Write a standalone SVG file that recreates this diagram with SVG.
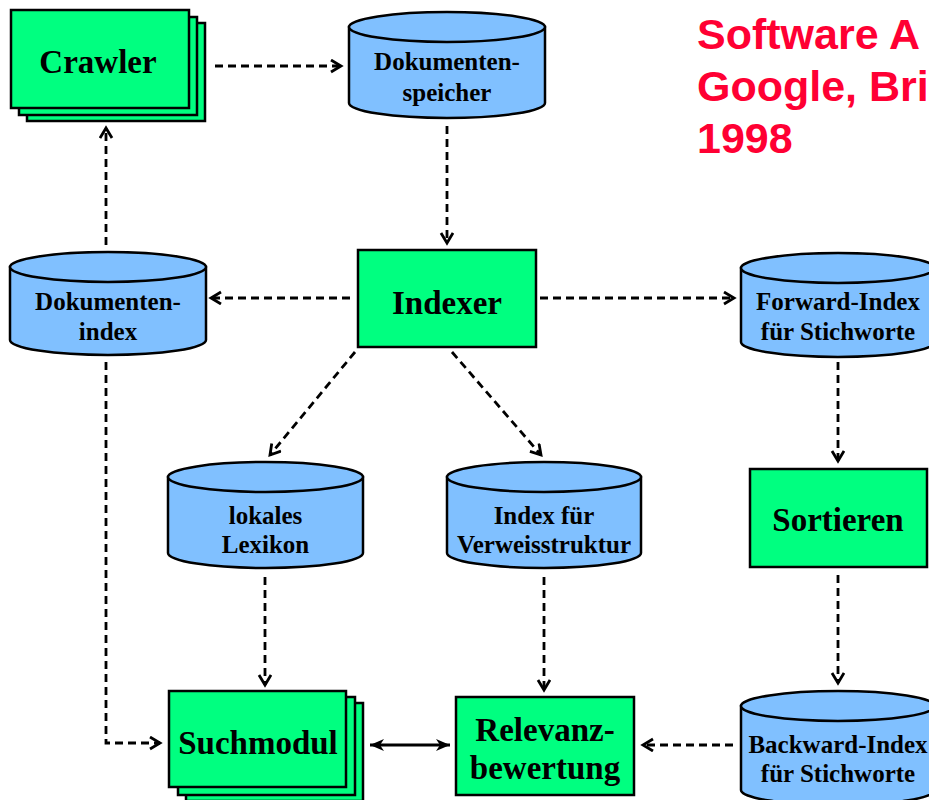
<svg xmlns="http://www.w3.org/2000/svg" width="929" height="800" viewBox="0 0 929 800">
  <style>
    .box { fill: #00ff80; stroke: #000; stroke-width: 2.5; }
    .cyl { fill: #80c0ff; stroke: #000; stroke-width: 2.5; }
    .lbl { font-family: "Liberation Serif", "Times New Roman", serif; font-weight: bold; fill: #000; text-anchor: middle; }
    .big { font-size: 33px; }
    .small { font-size: 25px; }
    .title { font-family: "Liberation Sans", Arial, sans-serif; font-weight: bold; font-size: 43px; fill: #ff0033; }
    .dash { fill: none; stroke: #000; stroke-width: 2.8; stroke-dasharray: 8 5; }
    .solid { fill: none; stroke: #000; stroke-width: 2.8; }
  </style>
  <defs>
    <marker id="open" markerUnits="userSpaceOnUse" markerWidth="14" markerHeight="16" refX="11" refY="7" orient="auto">
      <path d="M1,1 L11,7 L1,13" fill="none" stroke="#000" stroke-width="2.8"/>
    </marker>
    <marker id="solidEnd" markerUnits="userSpaceOnUse" markerWidth="16" markerHeight="14" refX="14" refY="6" orient="auto-start-reverse">
      <path d="M0,0 L14,6 L0,12 L4,6 Z" fill="#000"/>
    </marker>
  </defs>

  <!-- title -->
  <g id="title">
    <text class="title" x="697" y="49">Software A</text>
    <text class="title" x="697" y="101">Google, Bri</text>
    <text class="title" x="697" y="153">1998</text>
  </g>

  <!-- connectors -->
  <g id="connectors">
    <line class="dash" x1="215" y1="66" x2="341" y2="66" marker-end="url(#open)"/>
    <line class="dash" x1="447" y1="126" x2="447" y2="243" marker-end="url(#open)"/>
    <line class="dash" x1="350" y1="298" x2="211" y2="298" marker-end="url(#open)"/>
    <line class="dash" x1="106" y1="245" x2="106" y2="128" marker-end="url(#open)"/>
    <line class="dash" x1="540" y1="298" x2="734" y2="298" marker-end="url(#open)"/>
    <line class="dash" x1="355" y1="352" x2="270" y2="455" marker-end="url(#open)"/>
    <line class="dash" x1="452" y1="352" x2="541" y2="455" marker-end="url(#open)"/>
    <line class="dash" x1="838" y1="362" x2="838" y2="461" marker-end="url(#open)"/>
    <line class="dash" x1="838" y1="575" x2="838" y2="683" marker-end="url(#open)"/>
    <line class="dash" x1="265" y1="577" x2="265" y2="685" marker-end="url(#open)"/>
    <line class="dash" x1="544" y1="577" x2="544" y2="690" marker-end="url(#open)"/>
    <polyline class="dash" points="106,362 106,743 160,743" marker-end="url(#open)"/>
    <line class="dash" x1="733" y1="745" x2="643" y2="745" marker-end="url(#open)"/>
    <line class="solid" x1="370" y1="745" x2="450" y2="745" marker-start="url(#solidEnd)" marker-end="url(#solidEnd)"/>
  </g>

  <!-- Crawler (stacked) -->
  <g id="crawler">
    <rect class="box" x="27" y="23" width="178" height="98"/>
    <rect class="box" x="19" y="17" width="178" height="98"/>
    <rect class="box" x="11" y="10" width="178" height="98"/>
    <text class="lbl big" x="98" y="73">Crawler</text>
  </g>

  <!-- Dokumentenspeicher -->
  <g id="dokumentenspeicher">
    <path class="cyl" d="M349,27 L349,103 A98,15 0 0 0 545,103 L545,27 Z"/>
    <ellipse class="cyl" cx="447" cy="27" rx="98" ry="15"/>
    <text class="lbl small" x="447" y="70">Dokumenten-</text>
    <text class="lbl small" x="447" y="101">speicher</text>
  </g>

  <!-- Indexer -->
  <g id="indexer">
    <rect class="box" x="358" y="250" width="178" height="97"/>
    <text class="lbl big" x="447" y="314">Indexer</text>
  </g>

  <!-- Dokumentenindex -->
  <g id="dokumentenindex">
    <path class="cyl" d="M10,267 L10,340 A98,15 0 0 0 206,340 L206,267 Z"/>
    <ellipse class="cyl" cx="108" cy="267" rx="98" ry="15"/>
    <text class="lbl small" x="108" y="310">Dokumenten-</text>
    <text class="lbl small" x="108" y="340">index</text>
  </g>

  <!-- Forward-Index -->
  <g id="forward-index">
    <path class="cyl" d="M741,268 L741,342 A97,15 0 0 0 935,342 L935,268 Z"/>
    <ellipse class="cyl" cx="838" cy="268" rx="97" ry="15"/>
    <text class="lbl small" x="838" y="310">Forward-Index</text>
    <text class="lbl small" x="838" y="340">für Stichworte</text>
  </g>

  <!-- lokales Lexikon -->
  <g id="lexikon">
    <path class="cyl" d="M168,477 L168,553 A97.5,15 0 0 0 363,553 L363,477 Z"/>
    <ellipse class="cyl" cx="265.5" cy="477" rx="97.5" ry="15"/>
    <text class="lbl small" x="265.5" y="524">lokales</text>
    <text class="lbl small" x="265.5" y="553">Lexikon</text>
  </g>

  <!-- Index fuer Verweisstruktur -->
  <g id="verweisstruktur">
    <path class="cyl" d="M447,477 L447,553 A97,15 0 0 0 641,553 L641,477 Z"/>
    <ellipse class="cyl" cx="544" cy="477" rx="97" ry="15"/>
    <text class="lbl small" x="544" y="524">Index für</text>
    <text class="lbl small" x="544" y="553">Verweisstruktur</text>
  </g>

  <!-- Sortieren -->
  <g id="sortieren">
    <rect class="box" x="750" y="469" width="177" height="98"/>
    <text class="lbl big" x="838" y="531">Sortieren</text>
  </g>

  <!-- Backward-Index -->
  <g id="backward-index">
    <path class="cyl" d="M741,706 L741,790 A97,15 0 0 0 935,790 L935,706 Z"/>
    <ellipse class="cyl" cx="838" cy="706" rx="97" ry="15"/>
    <text class="lbl small" x="838" y="753">Backward-Index</text>
    <text class="lbl small" x="838" y="782">für Stichworte</text>
  </g>

  <!-- Suchmodul (stacked) -->
  <g id="suchmodul">
    <rect class="box" x="186" y="703" width="177" height="98"/>
    <rect class="box" x="178" y="697" width="177" height="98"/>
    <rect class="box" x="169" y="691" width="177" height="96"/>
    <text class="lbl big" x="258" y="754">Suchmodul</text>
  </g>

  <!-- Relevanzbewertung -->
  <g id="relevanzbewertung">
    <rect class="box" x="456" y="697" width="178" height="98"/>
    <text class="lbl big" x="545" y="741">Relevanz-</text>
    <text class="lbl big" x="545" y="779">bewertung</text>
  </g>
</svg>
